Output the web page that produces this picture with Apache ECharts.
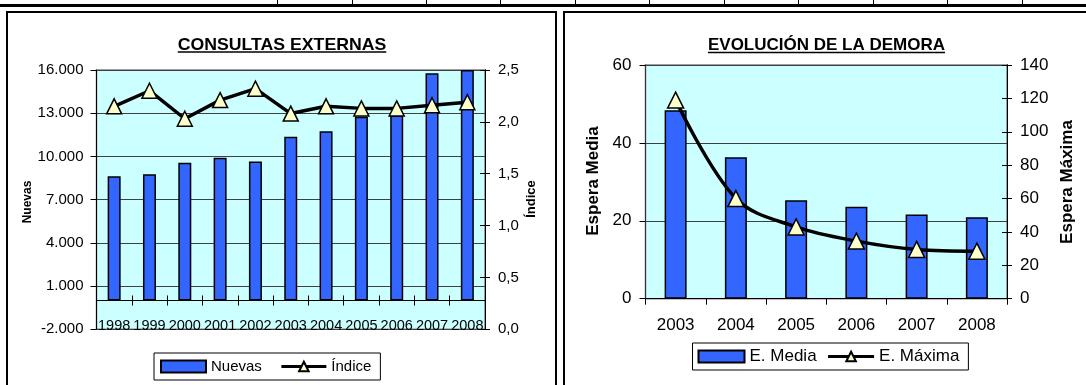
<!DOCTYPE html>
<html>
<head>
<meta charset="utf-8">
<script src="https://cdn.jsdelivr.net/npm/echarts@6/dist/echarts.min.js"></script>
<style>
html,body{margin:0;padding:0;background:#fff;}
#c{width:1086px;height:385px;}
</style>
</head>
<body>
<div id="c"></div>
<script>
// ---- data ----
const years1 = ['1998','1999','2000','2001','2002','2003','2004','2005','2006','2007','2008'];
const nuevas = [8630, 8760, 9560, 9900, 9650, 11360, 11750, 12750, 12840, 15780, 16000];
const indice = [2.15, 2.30, 2.03, 2.21, 2.32, 2.08, 2.15, 2.13, 2.13, 2.16, 2.19];
const years2 = ['2003','2004','2005','2006','2007','2008'];
const esperaMedia = [48.4, 36.3, 25.3, 23.6, 21.6, 20.9];
const esperaMaxima = [119, 60, 43, 34.5, 29.5, 28.5];
const title1 = 'CONSULTAS EXTERNAS';
const title2 = 'EVOLUCIÓN DE LA DEMORA';

const FONT = '"Liberation Sans", Arial, sans-serif';
const BG = '#CCFFFF', BAR = '#3366FF', TRI = '#FFFFCC';

function thousands(v){
  const s = Math.abs(v).toString().replace(/\B(?=(\d{3})+(?!\d))/g, '.');
  return (v < 0 ? '-' : '') + s;
}
function comma1(v){ return v.toFixed(1).replace('.', ','); }

function textWidth(txt, font){
  const c = document.createElement('canvas').getContext('2d');
  c.font = font; return c.measureText(txt).width;
}

const chart = echarts.init(document.getElementById('c'), null, {renderer:'canvas'});

const t1Font = 'bold 17px ' + FONT;
const t1w = textWidth(title1, t1Font) * 1.04, t2w = textWidth(title2, t1Font);
const t1x = 282, t2x = 826.5;

const graphic = [
  {type:'rect', shape:{x:0,y:4,width:1086,height:3}, style:{fill:'#000'}},
];
[277,352,426,500,575,649,724,798,873,947,1022].forEach(x=>{
  graphic.push({type:'line', shape:{x1:x+0.5,y1:0,x2:x+0.5,y2:5}, style:{stroke:'#000',lineWidth:1}});
});
graphic.push(
  {type:'rect', shape:{x:7,y:12,width:549,height:400}, style:{fill:'none',stroke:'#000',lineWidth:2}, z:100},
  {type:'rect', shape:{x:564,y:12,width:600,height:400}, style:{fill:'none',stroke:'#000',lineWidth:2}, z:100},
  {type:'text', x:t1x, y:45, scaleX:1.04, style:{text:title1, font:t1Font, fill:'#000', align:'center', verticalAlign:'middle'}},
  {type:'line', shape:{x1:t1x-t1w/2,y1:52,x2:t1x+t1w/2,y2:52}, style:{stroke:'#000',lineWidth:1.5}},
  {type:'text', x:t2x, y:45, style:{text:title2, font:t1Font, fill:'#000', align:'center', verticalAlign:'middle'}},
  {type:'line', shape:{x1:t2x-t2w/2,y1:52.5,x2:t2x+t2w/2,y2:52.5}, style:{stroke:'#000',lineWidth:1.5}},
  {type:'text', x:27.5, y:202, rotation:Math.PI/2, style:{text:'Nuevas', font:'bold 12px '+FONT, fill:'#000', align:'center', verticalAlign:'middle'}},
  {type:'text', x:531.5, y:199, rotation:Math.PI/2, style:{text:'Índice', font:'bold 13px '+FONT, fill:'#000', align:'center', verticalAlign:'middle'}},
  {type:'text', x:593, y:181, rotation:Math.PI/2, style:{text:'Espera Media', font:'bold 17px '+FONT, fill:'#000', align:'center', verticalAlign:'middle'}},
  {type:'text', x:1067, y:182, rotation:Math.PI/2, style:{text:'Espera Máxima', font:'bold 17px '+FONT, fill:'#000', align:'center', verticalAlign:'middle'}}
);

const lab = (size) => ({color:'#000', fontFamily:FONT, fontSize:size});

const option = {
  animation:false,
  backgroundColor:'#fff',
  graphic: graphic,
  grid:[
    {left:96.5, top:70, width:388.5, height:259.3, show:true, backgroundColor:BG, borderColor:'#808080', borderWidth:1.5},
    {left:645.5, top:65, width:361.5, height:233.7, show:true, backgroundColor:BG, borderColor:'#808080', borderWidth:1.5}
  ],
  legend:[
    {data:[{name:'Nuevas', icon:'rect'},'Índice'], left:154, top:353, orient:'horizontal', padding:[6,9,6,6], itemGap:18,
     itemWidth:45, itemHeight:12, borderColor:'#000', borderWidth:1, backgroundColor:'#fff',
     lineStyle:{width:3}, textStyle:lab(15), selectedMode:false},
    {data:[{name:'E. Media', icon:'rect'},'E. Máxima'], left:692.5, top:343, orient:'horizontal', padding:[5,9,5,5], itemGap:10,
     itemWidth:46, itemHeight:12, borderColor:'#000', borderWidth:1, backgroundColor:'#fff',
     lineStyle:{width:3}, textStyle:lab(17), selectedMode:false}
  ],
  xAxis:[
    {gridIndex:0, type:'category', data:years1, position:'bottom',
     axisLine:{show:true, onZero:true, onZeroAxisIndex:0, lineStyle:{color:'#000',width:1}},
     axisTick:{show:true, length:5, lineStyle:{color:'#000'}}, axisLabel:{show:false}, splitLine:{show:false}},
    {gridIndex:0, type:'category', data:years1, position:'bottom',
     axisLine:{show:false, onZero:false}, axisTick:{show:false},
     axisLabel:{show:true, inside:true, margin:-4, interval:0, ...lab(14.5)}, splitLine:{show:false}},
    {gridIndex:0, type:'category', data:years1, position:'bottom',
     axisLine:{show:true, onZero:true, onZeroAxisIndex:0, lineStyle:{color:'#000',width:1}},
     axisTick:{show:true, inside:true, length:5, lineStyle:{color:'#000'}}, axisLabel:{show:false}, splitLine:{show:false}},
    {gridIndex:1, type:'category', data:years2, position:'bottom',
     axisLine:{show:true, onZero:false, lineStyle:{color:'#000',width:1}},
     axisTick:{show:true, length:6, lineStyle:{color:'#000'}},
     axisLabel:{show:true, margin:18, interval:0, ...lab(17)}, splitLine:{show:false}}
  ],
  yAxis:[
    {gridIndex:0, type:'value', position:'left', min:-2000, max:16000, interval:3000,
     axisLine:{show:true, lineStyle:{color:'#000'}}, axisTick:{show:true, length:6, lineStyle:{color:'#000'}},
     axisLabel:{formatter:thousands, margin:13, ...lab(15)},
     splitLine:{show:true, lineStyle:{color:'#404040', width:1}}},
    {gridIndex:0, type:'value', position:'right', min:0, max:2.5, interval:0.5,
     axisLine:{show:true, lineStyle:{color:'#000'}}, axisTick:{show:true, length:5, lineStyle:{color:'#000'}},
     axisLabel:{formatter:comma1, margin:13, ...lab(15)}, splitLine:{show:false}},
    {gridIndex:1, type:'value', position:'left', min:0, max:60, interval:20,
     axisLine:{show:true, lineStyle:{color:'#333'}}, axisTick:{show:true, length:6, lineStyle:{color:'#000'}},
     axisLabel:{margin:14, ...lab(17)},
     splitLine:{show:true, lineStyle:{color:'#404040', width:1}}},
    {gridIndex:1, type:'value', position:'right', min:0, max:140, interval:20,
     axisLine:{show:true, lineStyle:{color:'#000'}}, axisTick:{show:true, length:5, lineStyle:{color:'#000'}},
     axisLabel:{margin:13, ...lab(17)}, splitLine:{show:false}},
    {gridIndex:0, type:'value', position:'right', min:0, max:2.5, interval:0.5,
     axisLine:{show:true, lineStyle:{color:'#000'}}, axisTick:{show:true, inside:true, length:5, lineStyle:{color:'#000'}},
     axisLabel:{show:false}, splitLine:{show:false}},
    {gridIndex:1, type:'value', position:'right', min:0, max:140, interval:20,
     axisLine:{show:true, lineStyle:{color:'#000'}}, axisTick:{show:true, inside:true, length:5, lineStyle:{color:'#000'}},
     axisLabel:{show:false}, splitLine:{show:false}}
  ],
  series:[
    {name:'Nuevas', type:'bar', xAxisIndex:0, yAxisIndex:0, data:nuevas, barWidth:13,
     itemStyle:{color:BAR, borderColor:'#000', borderWidth:1.5}},
    {name:'Índice', type:'line', xAxisIndex:0, yAxisIndex:1, data:indice,
     symbol:'triangle', symbolSize:15, lineStyle:{color:'#000', width:3.5},
     itemStyle:{color:TRI, borderColor:'#000', borderWidth:1.5}, z:3},
    {name:'E. Media', type:'bar', xAxisIndex:3, yAxisIndex:2, data:esperaMedia, barWidth:22,
     itemStyle:{color:BAR, borderColor:'#000', borderWidth:1.5}},
    {name:'E. Máxima', type:'line', xAxisIndex:3, yAxisIndex:3, data:esperaMaxima, smooth:0.35,
     symbol:'triangle', symbolSize:16, lineStyle:{color:'#000', width:3.5},
     itemStyle:{color:TRI, borderColor:'#000', borderWidth:1.5}, z:3}
  ]
};
chart.setOption(option);
</script>
</body>
</html>
